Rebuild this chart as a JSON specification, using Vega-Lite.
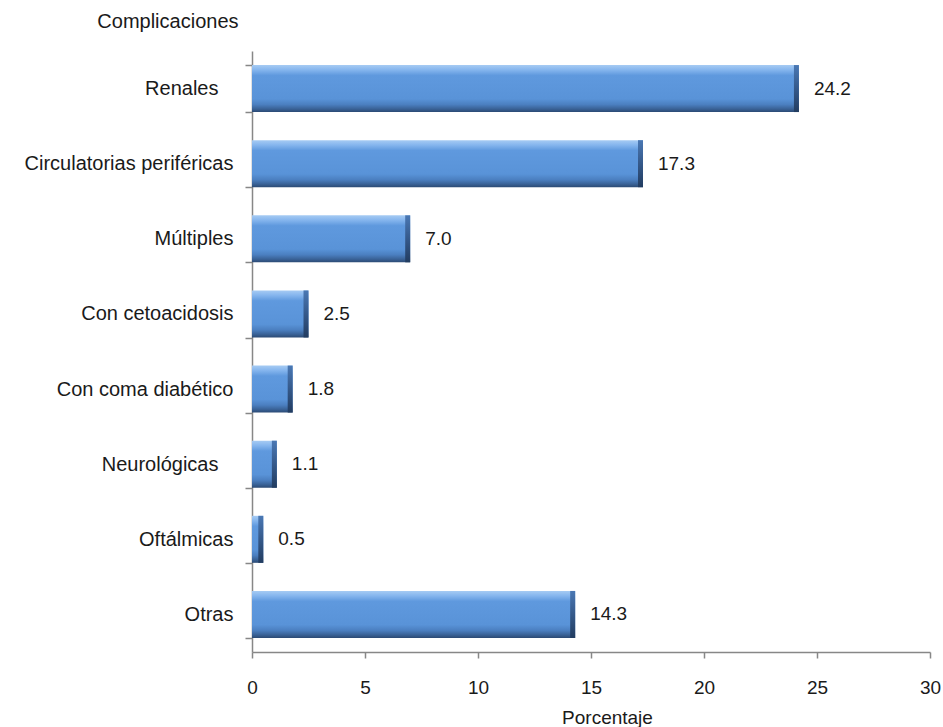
{
  "$schema": "https://vega.github.io/schema/vega-lite/v6.json",
  "width": 678,
  "height": 601,
  "autosize": "none",
  "padding": {"left": 252, "top": 51, "right": 13, "bottom": 75},
  "background": "white",
  "config": {
    "view": {"stroke": null},
    "font": "Liberation Sans"
  },
  "data": {
    "values": [
      {"complicacion": "Renales\u2800", "porcentaje": 24.2},
      {"complicacion": "Circulatorias periféricas", "porcentaje": 17.3},
      {"complicacion": "Múltiples", "porcentaje": 7.0},
      {"complicacion": "Con cetoacidosis", "porcentaje": 2.5},
      {"complicacion": "Con coma diabético", "porcentaje": 1.8},
      {"complicacion": "Neurológicas\u2800", "porcentaje": 1.1},
      {"complicacion": "Oftálmicas", "porcentaje": 0.5},
      {"complicacion": "Otras", "porcentaje": 14.3}
    ]
  },
  "encoding": {
    "y": {
      "field": "complicacion",
      "type": "nominal",
      "sort": null,
      "scale": {"paddingInner": 0.37, "paddingOuter": 0.185},
      "axis": {
        "title": "Complicaciones",
        "titleAngle": 0,
        "titleAlign": "right",
        "titleBaseline": "alphabetic",
        "titleX": -14,
        "titleY": -24,
        "titleFontSize": 20,
        "titleFontWeight": "normal",
        "titleColor": "#1a1a1a",
        "labelFontSize": 20,
        "labelColor": "#1a1a1a",
        "labelPadding": 12,
        "labelLimit": 260,
        "tickSize": 7,
        "tickColor": "#878787",
        "tickWidth": 1.5,
        "domainColor": "#878787",
        "domainWidth": 1.5,
        "tickBand": "extent",
        "grid": false
      }
    }
  },
  "layer": [
    {
      "mark": {
        "type": "bar",
        "height": 47,
        "color": {
          "gradient": "linear",
          "x1": 0, "y1": 0, "x2": 0, "y2": 1,
          "stops": [
            {"offset": 0, "color": "#a6cbf3"},
            {"offset": 0.1, "color": "#86b6ee"},
            {"offset": 0.22, "color": "#5f99de"},
            {"offset": 0.72, "color": "#5993d8"},
            {"offset": 0.84, "color": "#4b7fc0"},
            {"offset": 0.93, "color": "#3a6398"},
            {"offset": 1, "color": "#2b4a74"}
          ]
        }
      },
      "encoding": {
        "x": {
          "field": "porcentaje",
          "type": "quantitative",
          "scale": {"domain": [0, 30], "nice": false},
          "axis": {
            "title": "Porcentaje",
            "values": [0, 5, 10, 15, 20, 25, 30],
            "labelFlush": false,
            "titleFontSize": 19,
            "titleFontWeight": "normal",
            "titleColor": "#1a1a1a",
            "titleBaseline": "alphabetic",
            "titleX": 355,
            "titleY": 71,
            "labelFontSize": 19,
            "labelColor": "#1a1a1a",
            "labelPadding": 20,
            "tickSize": 6,
            "tickColor": "#878787",
            "tickWidth": 1.5,
            "domainColor": "#878787",
            "domainWidth": 1.5,
            "grid": false
          }
        }
      }
    },
    {
      "mark": {
        "type": "tick",
        "orient": "vertical",
        "thickness": 5,
        "size": 47,
        "xOffset": -2.5,
        "opacity": 1,
        "color": {
          "gradient": "linear",
          "x1": 0, "y1": 0, "x2": 0, "y2": 1,
          "stops": [
            {"offset": 0, "color": "#4a78b4"},
            {"offset": 0.5, "color": "#35598a"},
            {"offset": 1, "color": "#223c60"}
          ]
        }
      },
      "encoding": {
        "x": {"field": "porcentaje", "type": "quantitative"}
      }
    },
    {
      "mark": {
        "type": "text",
        "align": "left",
        "baseline": "middle",
        "dx": 15,
        "fontSize": 19,
        "color": "#1a1a1a"
      },
      "encoding": {
        "x": {"field": "porcentaje", "type": "quantitative"},
        "text": {"field": "porcentaje", "type": "quantitative", "format": ".1f"}
      }
    }
  ]
}
